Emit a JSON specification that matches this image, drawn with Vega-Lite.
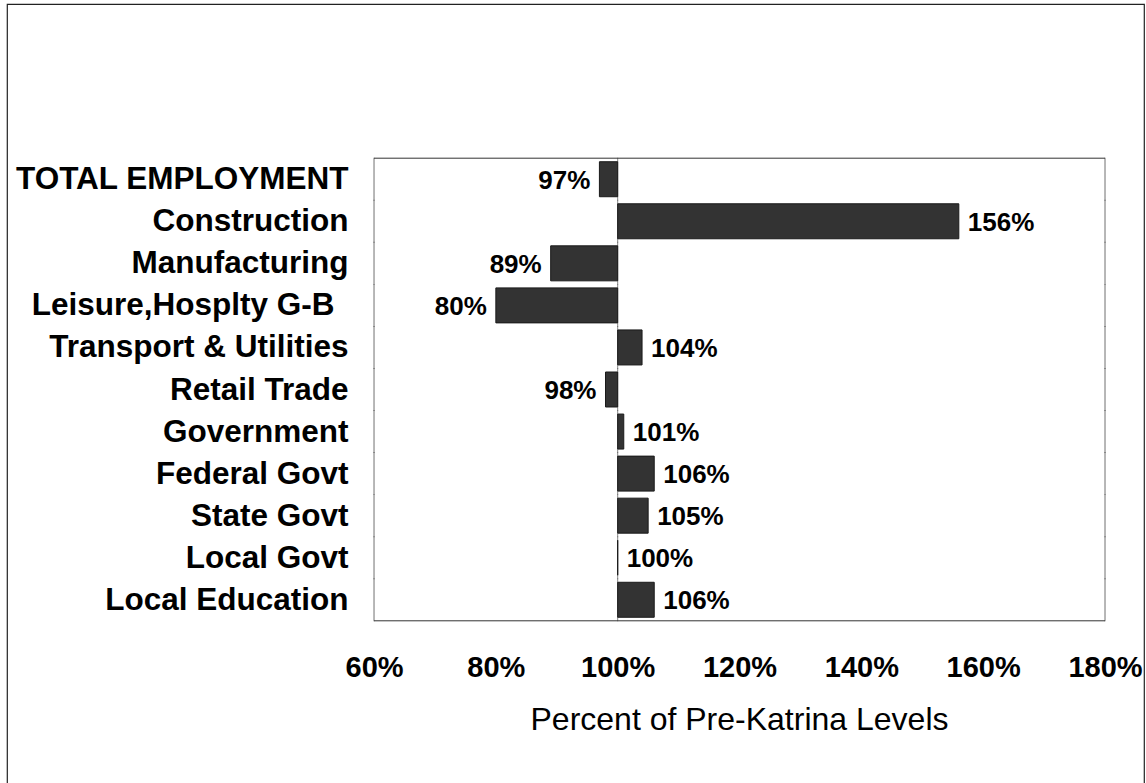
{
  "$schema": "https://vega.github.io/schema/vega-lite/v6.json",
  "width": 1137,
  "height": 782,
  "padding": {"left": 7, "top": 4, "right": 2, "bottom": 0},
  "autosize": {"type": "pad"},
  "background": "white",
  "config": {
    "view": {"stroke": "#222222", "strokeWidth": 1.2},
    "font": "Liberation Sans"
  },
  "data": {
    "values": [
      {"sector": "TOTAL EMPLOYMENT", "ratio": 0.97},
      {"sector": "Construction", "ratio": 1.56},
      {"sector": "Manufacturing", "ratio": 0.89},
      {"sector": "Leisure,Hosplty G-B\u00a0", "ratio": 0.80},
      {"sector": "Transport & Utilities", "ratio": 1.04},
      {"sector": "Retail Trade", "ratio": 0.98},
      {"sector": "Government", "ratio": 1.01},
      {"sector": "Federal Govt", "ratio": 1.06},
      {"sector": "State Govt", "ratio": 1.05},
      {"sector": "Local Govt", "ratio": 1.00},
      {"sector": "Local Education", "ratio": 1.06}
    ]
  },
  "layer": [
    {
      "mark": {"type": "tick", "color": "#333333", "thickness": 1, "size": 43, "orient": "vertical"},
      "encoding": {
        "x": {"datum": 0.6, "type": "quantitative"},
        "y": {"field": "sector", "type": "nominal", "sort": null}
      }
    },
    {
      "mark": {"type": "tick", "color": "#333333", "thickness": 1, "size": 43, "orient": "vertical"},
      "encoding": {
        "x": {"datum": 1.8, "type": "quantitative"},
        "y": {"field": "sector", "type": "nominal", "sort": null}
      }
    },
    {
      "mark": {"type": "tick", "color": "#555555", "thickness": 1, "size": 43, "orient": "vertical"},
      "encoding": {
        "x": {"datum": 1.0, "type": "quantitative"},
        "y": {"field": "sector", "type": "nominal", "sort": null}
      }
    },
    {
      "transform": [{"filter": "datum.sector == 'TOTAL EMPLOYMENT'"}],
      "mark": {"type": "rule", "color": "#333333", "strokeWidth": 1},
      "encoding": {
        "x": {"datum": 0.6, "type": "quantitative"},
        "x2": {"datum": 1.8},
        "y": {"field": "sector", "type": "nominal", "sort": null, "bandPosition": 0}
      }
    },
    {
      "transform": [{"filter": "datum.sector == 'Local Education'"}],
      "mark": {"type": "rule", "color": "#333333", "strokeWidth": 1},
      "encoding": {
        "x": {"datum": 0.6, "type": "quantitative"},
        "x2": {"datum": 1.8},
        "y": {"field": "sector", "type": "nominal", "sort": null, "bandPosition": 1}
      }
    },
    {
      "mark": {"type": "bar", "fill": "#333333", "stroke": "#1a1a1a", "strokeWidth": 1, "height": {"band": 0.832}},
      "encoding": {
        "y": {
          "field": "sector",
          "type": "nominal",
          "sort": null,
          "scale": {"paddingInner": 0, "paddingOuter": 0, "range": [154.2, 616.8], "round": false},
          "axis": {
            "orient": "left",
            "offset": -367,
            "domain": false,
            "ticks": false,
            "tickSize": 0,
            "grid": false,
            "labelPadding": {"condition": {"test": "indexof(datum.value, 'Leisure') == 0", "value": 40}, "value": 26},
            "labelFont": "Liberation Sans",
            "labelFontSize": 31.5,
            "labelFontWeight": "bold",
            "labelColor": "black",
            "labelOffset": 1,
            "labelLimit": 600,
            "labelOverlap": false,
            "title": null
          }
        },
        "x": {
          "field": "ratio",
          "type": "quantitative",
          "scale": {"domain": [-0.0025, 1.864], "nice": false, "zero": false},
          "axis": {
            "orient": "bottom",
            "values": [0.6, 0.8, 1.0, 1.2, 1.4, 1.6, 1.8],
            "format": ".0%",
            "offset": -166,
            "domain": false,
            "ticks": false,
            "tickSize": 0,
            "grid": false,
            "labelPadding": 33,
            "labelFont": "Liberation Sans",
            "labelFontSize": 29,
            "labelFontWeight": "bold",
            "labelColor": "black",
            "labelFlush": false,
            "labelOverlap": false,
            "title": "Percent of Pre-Katrina Levels",
            "titleFont": "Liberation Sans",
            "titleFontSize": 32,
            "titleFontWeight": "normal",
            "titleColor": "black",
            "titlePadding": 22,
            "titleX": 732
          }
        },
        "x2": {"datum": 1.0}
      }
    },
    {
      "transform": [{"filter": "datum.ratio >= 1"}],
      "mark": {"type": "text", "align": "left", "baseline": "middle", "dx": 9, "dy": 1.5, "fontSize": 26, "fontWeight": "bold", "font": "Liberation Sans", "color": "black"},
      "encoding": {
        "x": {"field": "ratio", "type": "quantitative"},
        "y": {"field": "sector", "type": "nominal", "sort": null},
        "text": {"field": "ratio", "type": "quantitative", "format": ".0%"}
      }
    },
    {
      "transform": [{"filter": "datum.ratio < 1"}],
      "mark": {"type": "text", "align": "right", "baseline": "middle", "dx": -9, "dy": 1.5, "fontSize": 26, "fontWeight": "bold", "font": "Liberation Sans", "color": "black"},
      "encoding": {
        "x": {"field": "ratio", "type": "quantitative"},
        "y": {"field": "sector", "type": "nominal", "sort": null},
        "text": {"field": "ratio", "type": "quantitative", "format": ".0%"}
      }
    }
  ]
}
